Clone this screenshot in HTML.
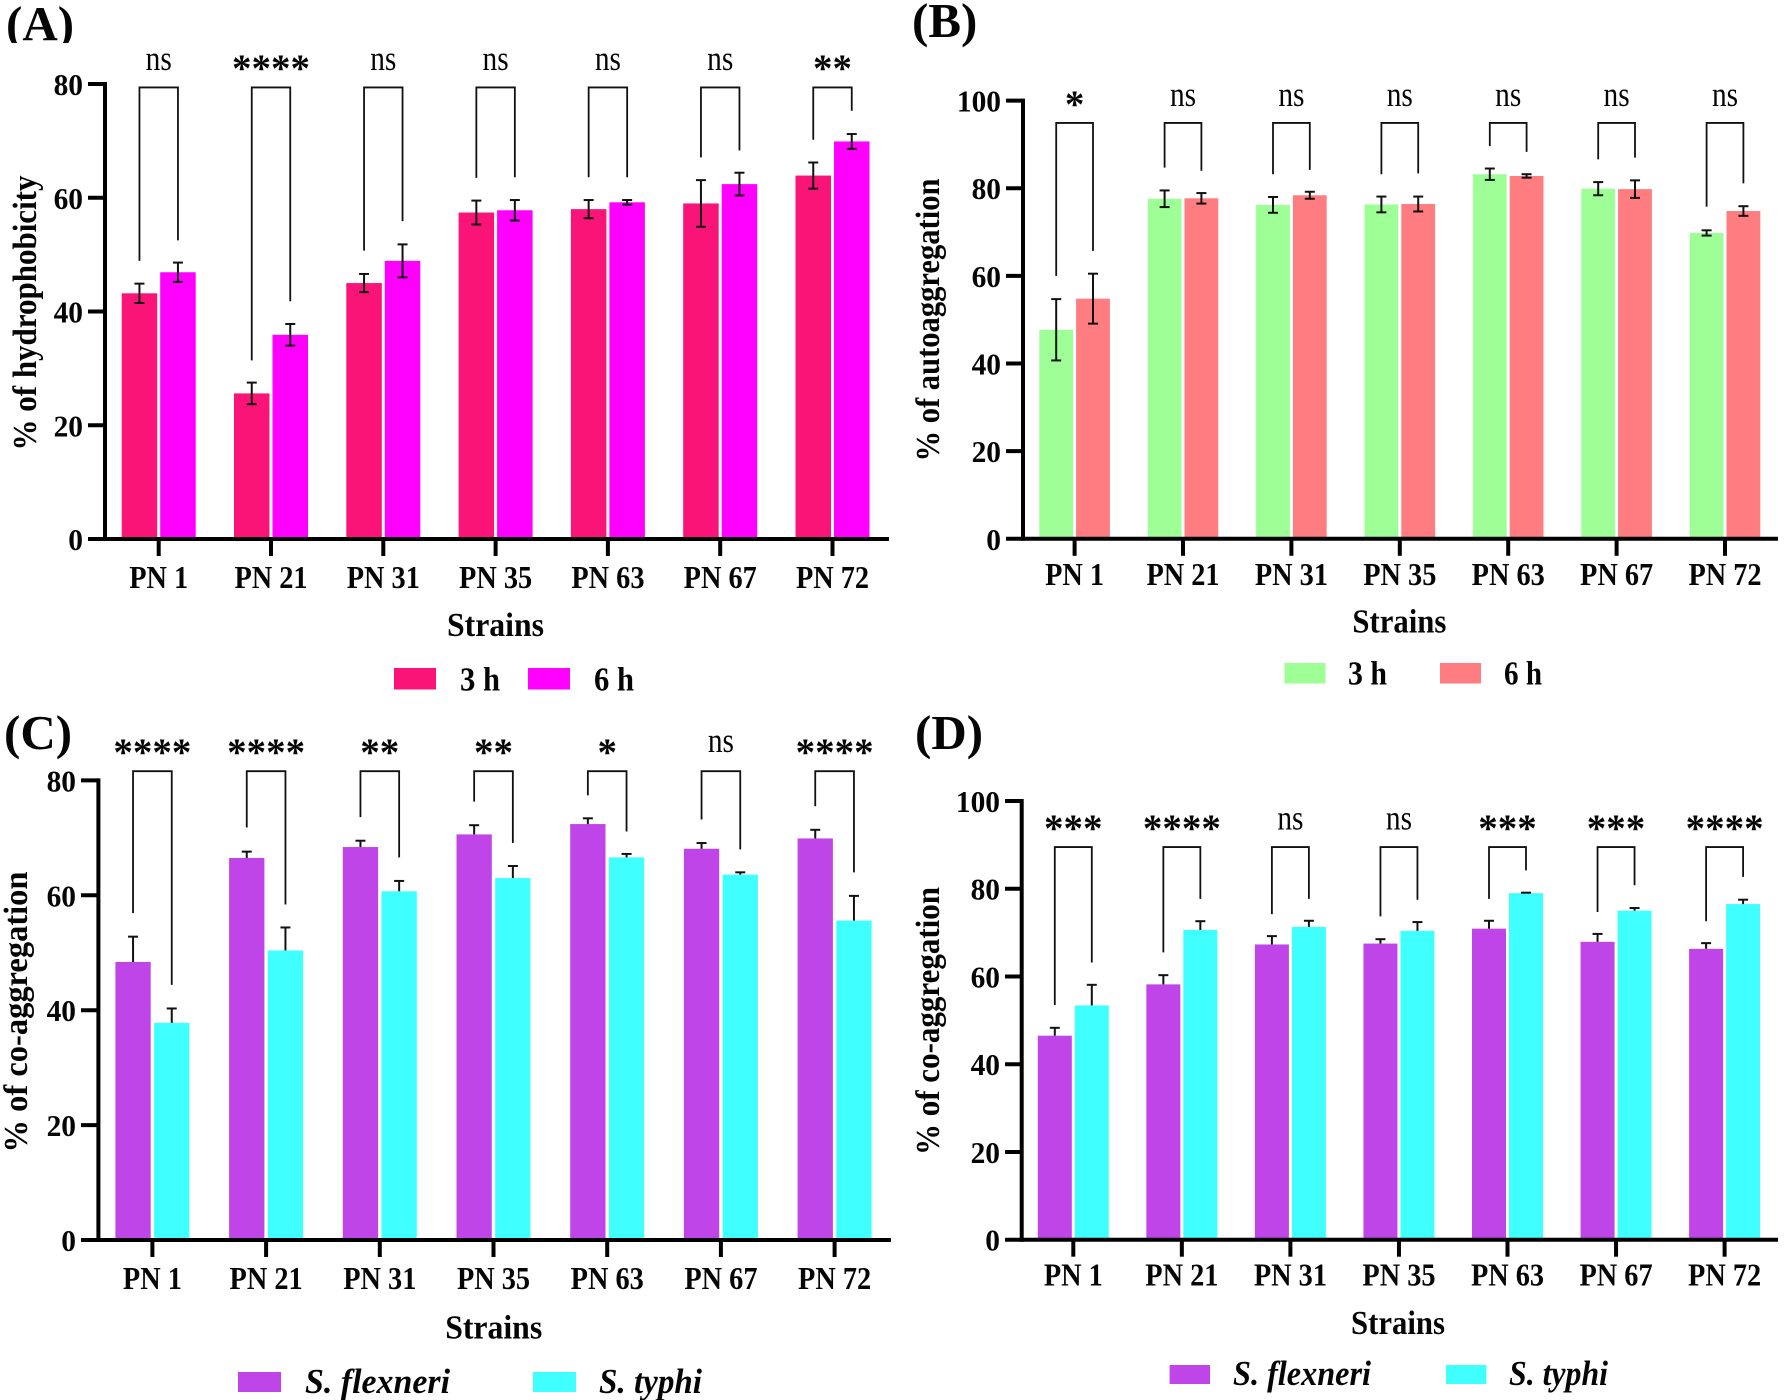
<!DOCTYPE html>
<html lang="en">
<head>
<meta charset="utf-8">
<title>Hydrophobicity, autoaggregation and co-aggregation of PN strains</title>
<style>
html,body{margin:0;padding:0;background:#fff;}
svg{display:block;}
text{font-family:"Liberation Serif",serif;fill:#050505;}
</style>
</head>
<body>
<svg id="figure" xmlns="http://www.w3.org/2000/svg" width="1784" height="1400" viewBox="0 0 1784 1400">
<defs><clipPath id="letter-a-clip"><rect x="0" y="0" width="120" height="43"/></clipPath></defs>
</svg>
<script>
const categories = ['PN 1','PN 21','PN 31','PN 35','PN 63','PN 67','PN 72'];

const ticksA = [0,20,40,60,80];
const valuesA3h = [43.2,25.6,45.0,57.4,58.0,59.0,63.9];
const valuesA6h = [46.9,35.9,48.9,57.8,59.2,62.4,69.9];
const errorsA3h = [1.7,1.9,1.6,2.1,1.6,4.1,2.3];
const errorsA6h = [1.7,1.9,2.9,1.8,0.4,2.0,1.3];
const sigA = ['ns','****','ns','ns','ns','ns','**'];
const legLeftA = [48.9,31.4,50.7,63.5,63.6,67.1,70.2];
const legRightA = [52.5,41.8,55.9,63.6,63.6,68.3,75.3];

const ticksB = [0,20,40,60,80,100];
const valuesB3h = [47.7,77.6,76.2,76.3,83.2,79.9,69.8];
const valuesB6h = [54.8,77.7,78.4,76.4,82.8,79.8,74.8];
const errorsB3h = [7.0,1.9,1.8,1.8,1.3,1.5,0.6];
const errorsB6h = [5.7,1.2,0.8,1.7,0.4,2.0,1.1];
const sigB = ['*','ns','ns','ns','ns','ns','ns'];
const legLeftB = [60.0,84.7,83.2,83.2,89.6,86.6,75.8];
const legRightB = [65.7,84.0,84.2,83.4,88.3,87.0,81.1];

const ticksC = [0,20,40,60,80];
const valuesCf = [48.4,66.5,68.4,70.6,72.4,68.1,69.9];
const valuesCt = [37.8,50.4,60.7,63.0,66.6,63.6,55.6];
const errorsCf = [4.4,1.1,1.1,1.6,1.0,1.0,1.5];
const errorsCt = [2.5,4.0,1.8,2.1,0.6,0.4,4.3];
const sigC = ['****','****','**','**','*','ns','****'];
const legLeftC = [56.9,71.8,73.6,76.3,77.4,73.2,75.5];
const legRightC = [44.4,58.4,66.6,69.1,71.1,68.0,64.0];

const ticksD = [0,20,40,60,80,100];
const valuesDf = [46.5,58.2,67.3,67.5,70.9,67.9,66.3];
const valuesDt = [53.4,70.6,71.3,70.4,79.0,75.0,76.5];
const errorsDf = [1.8,2.1,1.9,1.0,1.8,1.8,1.3];
const errorsDt = [4.7,2.0,1.4,2.0,0.1,0.6,1.0];
const sigD = ['***','****','ns','ns','***','***','****'];
const legLeftD = [53.5,65.5,74.2,73.7,77.7,74.7,72.6];
const legRightD = [63.2,77.7,77.7,77.5,84.2,80.8,82.7];

const NS = 'http://www.w3.org/2000/svg';
const root = document.getElementById('figure');

function make(tag, attrs, parent, content) {
  const el = document.createElementNS(NS, tag);
  for (const k in attrs) el.setAttribute(k, attrs[k]);
  if (content !== undefined) el.textContent = content;
  parent.appendChild(el);
  return el;
}

// Reference type is tall and horizontally condensed.
function condensed(x, y, sx, attrs, parent, content) {
  const a = Object.assign({transform:'translate(' + x + ',' + y + ') scale(' + sx + ',1)'}, attrs);
  return make('text', a, parent, content);
}

function drawPanel(p) {
  const g = make('g', {}, root);
  
  

  const yScale = v => p.y0 - (v / p.yMax) * (p.y0 - p.yTop);
  const xScale = i => p.xFirst + i * p.xStep;
  const off = (p.barW + p.barGap) / 2;

  const letterAttrs = {x:p.letterX, y:p.letterY, 'font-size':49, 'font-weight':'bold'};
  if (p.letterClip) letterAttrs['clip-path'] = 'url(#' + p.letterClip + ')';
  const letter = make('text', letterAttrs, g, '(' + p.id + ')');
  
  

  // bars
  p.series.forEach((s, si) => {
    s.values.forEach((v, i) => {
      const cx = xScale(i) + (si === 0 ? -off : off);
      const bar = make('rect', {x:cx - p.barW/2, y:yScale(v), width:p.barW, height:p.y0 - yScale(v), fill:s.color}, g);
      
      
    });
  });

  // error bars
  p.series.forEach((s, si) => {
    s.values.forEach((v, i) => {
      const cx = xScale(i) + (si === 0 ? -off : off);
      const hi = yScale(v + s.errors[i]);
      const lo = p.upperOnly ? yScale(v) : yScale(v - s.errors[i]);
      const eb = make('g', {stroke:'#111', 'stroke-width':2, fill:'none'}, g);
      
      
      make('line', {x1:cx, x2:cx, y1:hi, y2:lo}, eb);
      make('line', {x1:cx - 5, x2:cx + 5, y1:hi, y2:hi}, eb);
      if (!p.upperOnly) make('line', {x1:cx - 5, x2:cx + 5, y1:lo, y2:lo}, eb);
    });
  });

  // axes
  const axes = make('g', {stroke:'#000', 'stroke-width':4, fill:'none'}, g);
  
  
  make('line', {x1:p.axisX, x2:p.axisX, y1:p.yTop - 2, y2:p.y0 + 2}, axes);
  make('line', {x1:p.tickLeft, x2:p.xEnd, y1:p.y0, y2:p.y0}, axes);

  p.ticks.forEach(t => {
    const y = yScale(t);
    if (t !== 0) make('line', {x1:p.tickLeft, x2:p.axisX, y1:y, y2:y}, axes);
    const lab = condensed(p.tickLeft - 5, y + 11, 0.95, {'font-size':31, 'font-weight':'bold', 'text-anchor':'end'}, g, t);
    
    
  });

  categories.forEach((c, i) => {
    const x = xScale(i);
    make('line', {x1:x, x2:x, y1:p.y0, y2:p.y0 + 17}, axes);
    const lab = condensed(x, p.catY, 0.885, {'font-size':32, 'font-weight':'bold', 'text-anchor':'middle'}, g, c);
    
    
  });

  // significance brackets
  p.sig.forEach((label, i) => {
    const x = xScale(i), xl = x - off, xr = x + off, yb = yScale(p.bracketTop);
    const br = make('path', {
      d:'M' + xl + ' ' + yScale(p.legLeft[i]) + 'V' + yb + 'H' + xr + 'V' + yScale(p.legRight[i]),
      fill:'none', stroke:'#111', 'stroke-width':1.8
    }, g);
    
    
    let t;
    if (label === 'ns') {
      t = condensed(x, p.nsY, 0.84, {'font-size':35, 'text-anchor':'middle'}, g, label);
    } else {
      t = make('text', {x:x, y:p.starY, 'font-size':39, 'font-weight':'bold', 'text-anchor':'middle'}, g, label);
    }
    
    
  });

  // axis titles
  const xt = make('text', {
    x:p.xTitleX, y:p.xTitleY, 'font-size':34, 'font-weight':'bold', 'text-anchor':'middle',
    textLength:p.xTitleLen, lengthAdjust:'spacingAndGlyphs'
  }, g, 'Strains');
  
  
  const yt = make('text', {
    transform:'translate(' + p.yTitleX + ',' + p.yTitleY + ') rotate(-90)',
    'font-size':34, 'font-weight':'bold', 'text-anchor':'middle',
    textLength:p.yTitleLen, lengthAdjust:'spacingAndGlyphs'
  }, g, p.yTitle);
  
  

  // legend
  p.legend.forEach((l, i) => {
    const s = p.series[i];
    const lg = make('g', {}, g);
    
    
    make('rect', {x:l.sx, y:p.legY, width:l.sw, height:p.legH, fill:s.color}, lg);
    make('text', {
      x:l.tx, y:p.legY + p.legH + 1, 'font-size':p.legItalic ? 35 : 34, 'font-weight':'bold',
      'font-style':p.legItalic ? 'italic' : 'normal',
      textLength:l.tw, lengthAdjust:'spacingAndGlyphs'
    }, lg, s.name);
  });
}

drawPanel({
  id:'A', letterX:6, letterY:40, letterClip:'letter-a-clip',
  yMax:80, yTop:84, y0:539, axisX:105, tickLeft:88, xEnd:889,
  xFirst:158.7, xStep:112.3, barW:35.5, barGap:3,
  ticks:ticksA, catY:588, nsY:70, starY:81,
  sig:sigA, legLeft:legLeftA, legRight:legRightA, bracketTop:79.4,
  xTitleX:495.5, xTitleY:636, xTitleLen:97, yTitle:'% of hydrophobicity', yTitleX:36, yTitleY:313, yTitleLen:275,
  upperOnly:false,
  series:[
    {name:'3 h', color:'#FA1478', values:valuesA3h, errors:errorsA3h},
    {name:'6 h', color:'#FF00FF', values:valuesA6h, errors:errorsA6h}
  ],
  legY:668, legH:21.5, legItalic:false,
  legend:[{sx:394,sw:42,tx:460,tw:40},{sx:528,sw:42,tx:594,tw:40}]
});

drawPanel({
  id:'B', letterX:912, letterY:37,
  yMax:100, yTop:100.6, y0:538.8, axisX:1023, tickLeft:1006, xEnd:1778,
  xFirst:1074.6, xStep:108.4, barW:33.8, barGap:3,
  ticks:ticksB, catY:585, nsY:106, starY:117,
  sig:sigB, legLeft:legLeftB, legRight:legRightB, bracketTop:94.9,
  xTitleX:1399.4, xTitleY:632.5, xTitleLen:94, yTitle:'% of autoaggregation', yTitleX:939, yTitleY:320, yTitleLen:283,
  upperOnly:false,
  series:[
    {name:'3 h', color:'#9DFF95', values:valuesB3h, errors:errorsB3h},
    {name:'6 h', color:'#FF7D80', values:valuesB6h, errors:errorsB6h}
  ],
  legY:663, legH:20.5, legItalic:false,
  legend:[{sx:1284.5,sw:41,tx:1348,tw:39},{sx:1440,sw:41,tx:1504,tw:38}]
});

drawPanel({
  id:'C', letterX:4, letterY:749,
  yMax:80, yTop:780.4, y0:1240, axisX:98.4, tickLeft:81, xEnd:891,
  xFirst:152.4, xStep:113.7, barW:35.3, barGap:3.4,
  ticks:ticksC, catY:1289, nsY:752, starY:765,
  sig:sigC, legLeft:legLeftC, legRight:legRightC, bracketTop:81.6,
  xTitleX:493.7, xTitleY:1338.5, xTitleLen:97, yTitle:'% of co-aggregation', yTitleX:27, yTitleY:1012, yTitleLen:281,
  upperOnly:true,
  series:[
    {name:'S. flexneri', color:'#BF45E8', values:valuesCf, errors:errorsCf},
    {name:'S. typhi', color:'#3FFFFF', values:valuesCt, errors:errorsCt}
  ],
  legY:1372, legH:20, legItalic:true,
  legend:[{sx:238,sw:43,tx:305,tw:145},{sx:533,sw:43,tx:599,tw:103}]
});

drawPanel({
  id:'D', letterX:915, letterY:749,
  yMax:100, yTop:801, y0:1239.7, axisX:1021.7, tickLeft:1005, xEnd:1778,
  xFirst:1073.3, xStep:108.55, barW:34, barGap:3,
  ticks:ticksD, catY:1285.7, nsY:829.5, starY:841,
  sig:sigD, legLeft:legLeftD, legRight:legRightD, bracketTop:89.5,
  xTitleX:1398, xTitleY:1334, xTitleLen:94, yTitle:'% of co-aggregation', yTitleX:939, yTitleY:1021, yTitleLen:268,
  upperOnly:true,
  series:[
    {name:'S. flexneri', color:'#BF45E8', values:valuesDf, errors:errorsDf},
    {name:'S. typhi', color:'#3FFFFF', values:valuesDt, errors:errorsDt}
  ],
  legY:1365, legH:19, legItalic:true,
  legend:[{sx:1169.6,sw:40.4,tx:1233,tw:138},{sx:1446,sw:40.4,tx:1509,tw:99}]
});
</script>
</body>
</html>
